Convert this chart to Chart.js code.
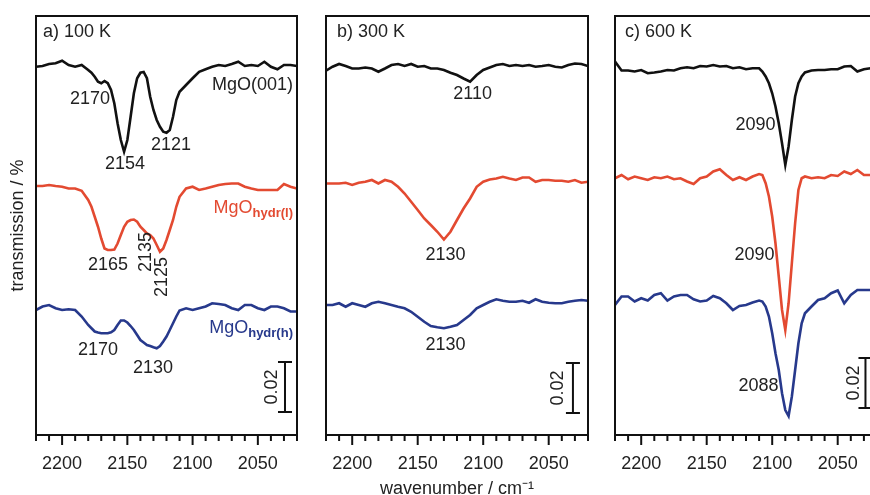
<!DOCTYPE html>
<html lang="en">
<head>
  <meta charset="UTF-8" />
  <title>CO on MgO - IR spectra</title>
  <script src="https://cdn.jsdelivr.net/npm/chart.js"></script>
  <style>
    html, body { margin: 0; padding: 0; background: #fff; overflow: hidden; }
    #wrap { position: relative; width: 870px; height: 495px; overflow: hidden; }
    /* each panel canvas covers the page, chart area placed by layout padding */
    .panel { position: absolute; left: 0; top: 0; width: 900px; height: 495px; }
  </style>
</head>
<body>
  <div id="wrap">
    <div class="panel"><canvas id="panelA"></canvas></div>
    <div class="panel"><canvas id="panelB"></canvas></div>
    <div class="panel"><canvas id="panelC"></canvas></div>
  </div>

  <script>
    // ---- data (transmission change vs. wavenumber) ----
    // panel a) 100 K
    const wnA = [2220, 2215, 2210, 2205, 2200, 2195, 2190, 2185, 2180,
      2177.5, 2175, 2172.5, 2170, 2167.5, 2165, 2162.5, 2160, 2157.5, 2155, 2152.5, 2150,
      2147.5, 2145, 2142.5, 2140, 2137.5, 2135, 2132.5, 2130, 2127.5, 2125, 2122.5, 2120,
      2117.5, 2115, 2112.5, 2110,
      2105, 2100, 2095, 2090, 2085, 2080, 2075, 2070, 2065, 2060, 2055, 2050, 2045, 2040,
      2035, 2030, 2025, 2020];
    const mgoA = [-0.0007, -0.0004, 0.0004, 0.0007, 0.0017, 0, -0.0007, 0, -0.002,
      -0.0031, -0.0047, -0.0067, -0.0073, -0.0064, -0.0073, -0.01, -0.0153, -0.0233, -0.03, -0.0347, -0.03,
      -0.0207, -0.0113, -0.0053, -0.0031, -0.0028, -0.0053, -0.0127, -0.018, -0.022, -0.0247, -0.0267, -0.0271,
      -0.026, -0.0207, -0.014, -0.0107,
      -0.008, -0.0053, -0.0027, -0.0017, -0.0007, 0, -0.0004, 0.0004, 0.0013, -0.0004, 0, -0.0004, 0.0013, -0.0007,
      -0.0017, 0, 0, -0.0004];
    const hydrLA = [0.0003, 0.0003, 0.0007, 0.0003, 0, -0.0007, -0.0007, -0.0016, -0.0053,
      -0.008, -0.012, -0.016, -0.0207, -0.0247, -0.0253, -0.0253, -0.0251, -0.0227, -0.0193, -0.016, -0.014,
      -0.0133, -0.0131, -0.014, -0.016, -0.0173, -0.0187, -0.0193, -0.0207, -0.0233, -0.026, -0.0247, -0.0213,
      -0.0173, -0.0133, -0.008, -0.004,
      -0.0007, 0, -0.0013, -0.0007, 0, 0.0007, 0.0011, 0.0013, 0.0013, 0, -0.0007, -0.0013, -0.0013, -0.0013,
      -0.0013, 0.0011, 0, -0.0007];
    const hydrHA = [-0.0007, 0.0007, 0.0013, 0, -0.0007, -0.0004, -0.0007, -0.0033, -0.0067,
      -0.008, -0.0093, -0.0097, -0.01, -0.01, -0.01, -0.0096, -0.0087, -0.0067, -0.0049, -0.0049, -0.0057,
      -0.0071, -0.0087, -0.0107, -0.0127, -0.0137, -0.0147, -0.0151, -0.0156, -0.016, -0.0151, -0.0133, -0.0113,
      -0.0087, -0.006, -0.0033, -0.0009,
      0, -0.0007, 0, 0.0007, 0.002, 0.0017, 0.0013, 0, -0.0007, 0.0013, 0.0013, 0, -0.0007, 0.0007,
      0.0007, 0, -0.0013, -0.0013];
    const offsetsA = [0.148, 0.0993, 0.0507];

    // panel b) 300 K
    const wnB = [2220, 2215, 2210, 2205, 2200, 2195, 2190, 2185, 2180, 2175,
      2170, 2165, 2160, 2155, 2150, 2145, 2140, 2135, 2130, 2125,
      2120, 2115, 2110, 2105, 2100, 2095, 2090, 2085, 2080, 2075,
      2070, 2065, 2060, 2055, 2050, 2045, 2040, 2035, 2030, 2025, 2020];
    const mgoB = [-0.0016, 0, 0.0011, 0.0003, -0.0007, -0.0007, -0.0003, -0.0007, -0.002, -0.0007,
      0.0007, 0.0011, 0.0003, 0.0011, 0, 0.0003, -0.0007, -0.0007, -0.0013, -0.0024,
      -0.0033, -0.0047, -0.006, -0.0033, -0.0013, -0.0003, 0.0007, 0.0011, 0.0003, 0.0007,
      0.0003, 0.0007, 0, 0.0003, 0.0007, 0, -0.0003, 0.0007, 0.0013, 0.0011, 0.0003];
    const hydrLB = [-0.0003, -0.0003, -0.0003, 0, -0.0009, 0, 0.0004, 0.0011, -0.0003, 0.0011,
      0.0004, -0.0016, -0.0043, -0.0076, -0.0109, -0.0143, -0.0169, -0.0196, -0.0227, -0.0196,
      -0.0149, -0.0103, -0.0063, -0.0016, 0.0004, 0.0013, 0.0017, 0.0024, 0.0017, 0.0011,
      0.0021, 0.0021, 0.0004, 0.0011, 0.0011, 0.0008, 0.0008, 0.0004, 0.0011, 0, 0.0004];
    const hydrHB = [-0.0004, -0.0004, 0.0003, -0.0011, 0.0003, -0.0004, -0.0011, 0.0003, 0.0009, 0.0003,
      -0.0004, -0.0011, -0.0017, -0.0031, -0.0051, -0.0071, -0.0088, -0.0093, -0.0097, -0.0091,
      -0.0084, -0.0064, -0.0044, -0.0017, -0.0004, 0.0009, 0.0019, 0.0013, 0.0009, 0.0009,
      0.0013, 0.0005, 0.0019, 0.0009, 0.0005, 0.0003, 0.0003, 0.0009, 0.0013, 0.0016, 0.0013];
    const offsetsB = [0.1473, 0.1009, 0.0524];

    // panel c) 600 K
    const wnC = [2220, 2215, 2210, 2205, 2200, 2195, 2190, 2185, 2180, 2175, 2170, 2165,
      2160, 2155, 2150, 2145, 2140, 2135, 2130, 2125, 2120, 2115, 2110,
      2107.5, 2105, 2102.5, 2100, 2097.5, 2095, 2092.5, 2090, 2087.5, 2085, 2082.5, 2080, 2077.5, 2075,
      2070, 2065, 2060, 2055, 2050, 2045, 2040, 2035, 2030, 2025, 2020];
    const mgoC = [0.0031, -0.0005, -0.0005, -0.0009, -0.0003, -0.0016, -0.0013, -0.0009, -0.0003, -0.0005, 0.0004, 0.0008,
      0.0004, 0.0013, 0.0011, 0.0017, 0.0011, 0.0013, 0.0004, 0.0008, 0, 0.0004, 0.0004,
      -0.0009, -0.0029, -0.0056, -0.0096, -0.0149, -0.0216, -0.0296, -0.0383, -0.0309, -0.0203, -0.0109, -0.0056, -0.0029, -0.0013,
      -0.0005, -0.0003, -0.0003, 0, 0, 0.0011, 0.0013, -0.0009, 0, 0.0004, 0.0004];
    const hydrLC = [-0.0004, 0.0009, -0.0008, 0.0003, -0.0004, -0.0011, 0, -0.0004, 0.0003, -0.0008, -0.0004, -0.0017,
      -0.0027, -0.0004, 0.0003, 0.0023, 0.0032, 0.0009, -0.0011, 0, -0.0011, 0.0003, 0.0013,
      0.0009, -0.0024, -0.0077, -0.0157, -0.0264, -0.0397, -0.0531, -0.0611, -0.0504, -0.0344, -0.0184, -0.0051, -0.0004, 0.0003,
      -0.0004, 0, -0.0004, 0.0009, 0.0005, 0.0023, 0.0013, 0.0029, 0.0009, 0.0009, 0.0009];
    const hydrHC = [-0.0027, 0.0007, 0.0007, -0.0013, 0, -0.0009, 0.0013, 0.002, -0.0009, 0.0007, 0.0013, 0.0013,
      -0.0004, -0.0013, -0.0009, 0.0009, 0, -0.002, -0.0047, -0.0031, -0.0027, -0.0017, -0.0009,
      -0.0013, -0.0033, -0.0073, -0.014, -0.022, -0.0287, -0.038, -0.0447, -0.0471, -0.0393, -0.0287, -0.018, -0.01, -0.006,
      -0.0033, -0.0007, 0, 0.002, 0.0031, -0.002, 0.0013, 0.0033, 0.0033, 0.0033, 0.0033];
    const offsetsC = [0.1463, 0.1031, 0.0547];

    const xTickLabels = [2200, 2150, 2100, 2050];

    // ---- styling ----
    const FONT = '"Liberation Sans", Arial, Helvetica, sans-serif';
    const BLACK = '#111111';
    const RED = '#e34a31';
    const BLUE = '#27398c';
    const TEXT = '#222222';

    // frame around the plot area plus outward ticks (long every 50, short every 10)
    const framePlugin = {
      id: 'frame',
      afterDraw(chart) {
        const { ctx, chartArea: a, scales: { x } } = chart;
        ctx.save();
        ctx.strokeStyle = BLACK;
        ctx.lineWidth = 2;
        ctx.strokeRect(a.left, a.top, a.right - a.left, a.bottom - a.top);
        x.ticks.forEach(t => {
          const px = x.getPixelForValue(t.value);
          const major = xTickLabels.includes(Math.round(t.value));
          ctx.beginPath();
          ctx.moveTo(px, a.bottom);
          ctx.lineTo(px, a.bottom + (major ? 10 : 6));
          ctx.stroke();
        });
        ctx.restore();
      }
    };

    // peak labels, trace names and the 0.02 scale bar
    const notePlugin = {
      id: 'notes',
      afterDatasetsDraw(chart, args, opts) {
        const { ctx, scales: { x, y } } = chart;
        (opts.items || []).forEach(it => {
          const px = x.getPixelForValue(it.wn);
          const py = y.getPixelForValue(it.t);
          const mainFont = `${it.size || 18}px ${FONT}`;
          const subFont = `bold 13px ${FONT}`;
          ctx.save();
          ctx.translate(px, py);
          if (it.rotate) ctx.rotate(-Math.PI / 2);
          ctx.fillStyle = it.color || TEXT;
          ctx.textBaseline = 'middle';
          ctx.textAlign = 'left';
          ctx.font = mainFont;
          const mainW = ctx.measureText(it.text).width;
          let subW = 0;
          if (it.sub) {
            ctx.font = subFont;
            subW = ctx.measureText(it.sub).width;
          }
          const total = mainW + subW;
          const x0 = it.align === 'right' ? -total : it.align === 'left' ? 0 : -total / 2;
          ctx.font = mainFont;
          ctx.fillText(it.text, x0, 0);
          if (it.sub) {
            ctx.font = subFont;
            ctx.fillText(it.sub, x0 + mainW, 5);
          }
          ctx.restore();
        });

        const sb = opts.scaleBar;
        if (sb) {
          const bx = x.getPixelForValue(sb.wn);
          const y0 = y.getPixelForValue(sb.t0);
          const y1 = y.getPixelForValue(sb.t0 + sb.len);
          ctx.save();
          ctx.strokeStyle = BLACK;
          ctx.lineWidth = 2;
          ctx.beginPath();
          ctx.moveTo(bx, y0); ctx.lineTo(bx, y1);
          ctx.moveTo(bx - 7, y0); ctx.lineTo(bx + 7, y0);
          ctx.moveTo(bx - 7, y1); ctx.lineTo(bx + 7, y1);
          ctx.stroke();
          ctx.translate(x.getPixelForValue(sb.textWn), (y0 + y1) / 2);
          ctx.rotate(-Math.PI / 2);
          ctx.fillStyle = TEXT;
          ctx.font = `18px ${FONT}`;
          ctx.textAlign = 'center';
          ctx.textBaseline = 'middle';
          ctx.fillText(sb.len.toFixed(2), 0, 0);
          ctx.restore();
        }
      }
    };

    function trace(wn, vals, offset, color) {
      return {
        data: wn.map((w, i) => ({ x: w, y: offset + vals[i] })),
        borderColor: color,
        borderWidth: 2.6,
        pointRadius: 0,
        tension: 0,
        fill: false
      };
    }

    function makePanel(id, datasets, pad, notes, extra) {
      extra = extra || {};
      const yAxis = {
        min: 0,
        max: 0.1676,
        display: false,
        grid: { display: false },
        border: { display: false },
        ticks: { display: false }
      };
      if (extra.yTitle) {
        // only the first panel carries the axis title, in a 36px wide strip
        yAxis.display = true;
        yAxis.title = {
          display: true,
          text: extra.yTitle,
          color: TEXT,
          font: { family: FONT, size: 18 },
          padding: { top: 7, bottom: 0 }
        };
        yAxis.afterFit = s => { s.width = 36; };
      }
      return new Chart(document.getElementById(id), {
        type: 'line',
        data: { datasets },
        options: {
          responsive: true,
          maintainAspectRatio: false,
          animation: false,
          events: [],
          layout: { padding: pad },
          plugins: {
            legend: { display: false },
            tooltip: { enabled: false },
            notes: notes
          },
          scales: {
            x: {
              type: 'linear',
              min: 2020,
              max: 2220,
              reverse: true,
              grid: { display: false, drawTicks: false },
              border: { display: false },
              ticks: {
                stepSize: 10,
                autoSkip: false,
                maxRotation: 0,
                padding: 18,
                color: TEXT,
                font: { family: FONT, size: 18 },
                callback: v => xTickLabels.includes(Math.round(v)) ? String(Math.round(v)) : ''
              },
              title: extra.xTitle ? {
                display: true,
                text: extra.xTitle,
                color: TEXT,
                font: { family: FONT, size: 18 },
                padding: { top: 0, bottom: -5 }
              } : { display: false },
              afterFit: s => { s.height = 60; }
            },
            y: yAxis
          }
        },
        plugins: [framePlugin, notePlugin]
      });
    }

    makePanel('panelA', [
      trace(wnA, mgoA, offsetsA[0], BLACK),
      trace(wnA, hydrLA, offsetsA[1], RED),
      trace(wnA, hydrHA, offsetsA[2], BLUE)
    ], { left: 0, right: 603, top: 16, bottom: 0 }, {
      items: [
        { text: 'a) 100 K', wn: 2214.6, t: 0.1612, align: 'left' },
        { text: '2170', wn: 2178.6, t: 0.1344 },
        { text: '2154', wn: 2151.8, t: 0.1084 },
        { text: '2121', wn: 2116.6, t: 0.116 },
        { text: 'MgO(001)', wn: 2023.1, t: 0.140, align: 'right' },
        { text: '2165', wn: 2164.8, t: 0.068 },
        { text: '2135', wn: 2135.7, t: 0.0732, rotate: true },
        { text: '2125', wn: 2123.4, t: 0.0632, rotate: true },
        { text: 'MgO', sub: 'hydr(l)', wn: 2023.1, t: 0.0908, align: 'right', color: RED },
        { text: '2170', wn: 2172.5, t: 0.034 },
        { text: '2130', wn: 2130.3, t: 0.0268 },
        { text: 'MgO', sub: 'hydr(h)', wn: 2023.1, t: 0.0428, align: 'right', color: BLUE }
      ],
      scaleBar: { wn: 2029.2, t0: 0.0092, len: 0.02, textWn: 2039.2 }
    }, { yTitle: 'transmission / %' });

    makePanel('panelB', [
      trace(wnB, mgoB, offsetsB[0], BLACK),
      trace(wnB, hydrLB, offsetsB[1], RED),
      trace(wnB, hydrHB, offsetsB[2], BLUE)
    ], { left: 326, right: 312, top: 16, bottom: 0 }, {
      items: [
        { text: 'b) 300 K', wn: 2211.6, t: 0.1612, align: 'left' },
        { text: '2110', wn: 2108.1, t: 0.1364 },
        { text: '2130', wn: 2128.8, t: 0.072 },
        { text: '2130', wn: 2128.8, t: 0.036 }
      ],
      scaleBar: { wn: 2031.5, t0: 0.0088, len: 0.02, textWn: 2043 }
    }, { xTitle: 'wavenumber / cm⁻¹' });

    makePanel('panelC', [
      trace(wnC, mgoC, offsetsC[0], BLACK),
      trace(wnC, hydrLC, offsetsC[1], RED),
      trace(wnC, hydrHC, offsetsC[2], BLUE)
    ], { left: 615, right: 23, top: 16, bottom: 0 }, {
      items: [
        { text: 'c) 600 K', wn: 2212.3, t: 0.1612, align: 'left' },
        { text: '2090', wn: 2097.4, t: 0.124, align: 'right' },
        { text: '2090', wn: 2098.2, t: 0.072, align: 'right' },
        { text: '2088', wn: 2095.1, t: 0.0196, align: 'right' }
      ],
      scaleBar: { wn: 2028.8, t0: 0.0108, len: 0.02, textWn: 2037.8 }
    });
  </script>
</body>
</html>
